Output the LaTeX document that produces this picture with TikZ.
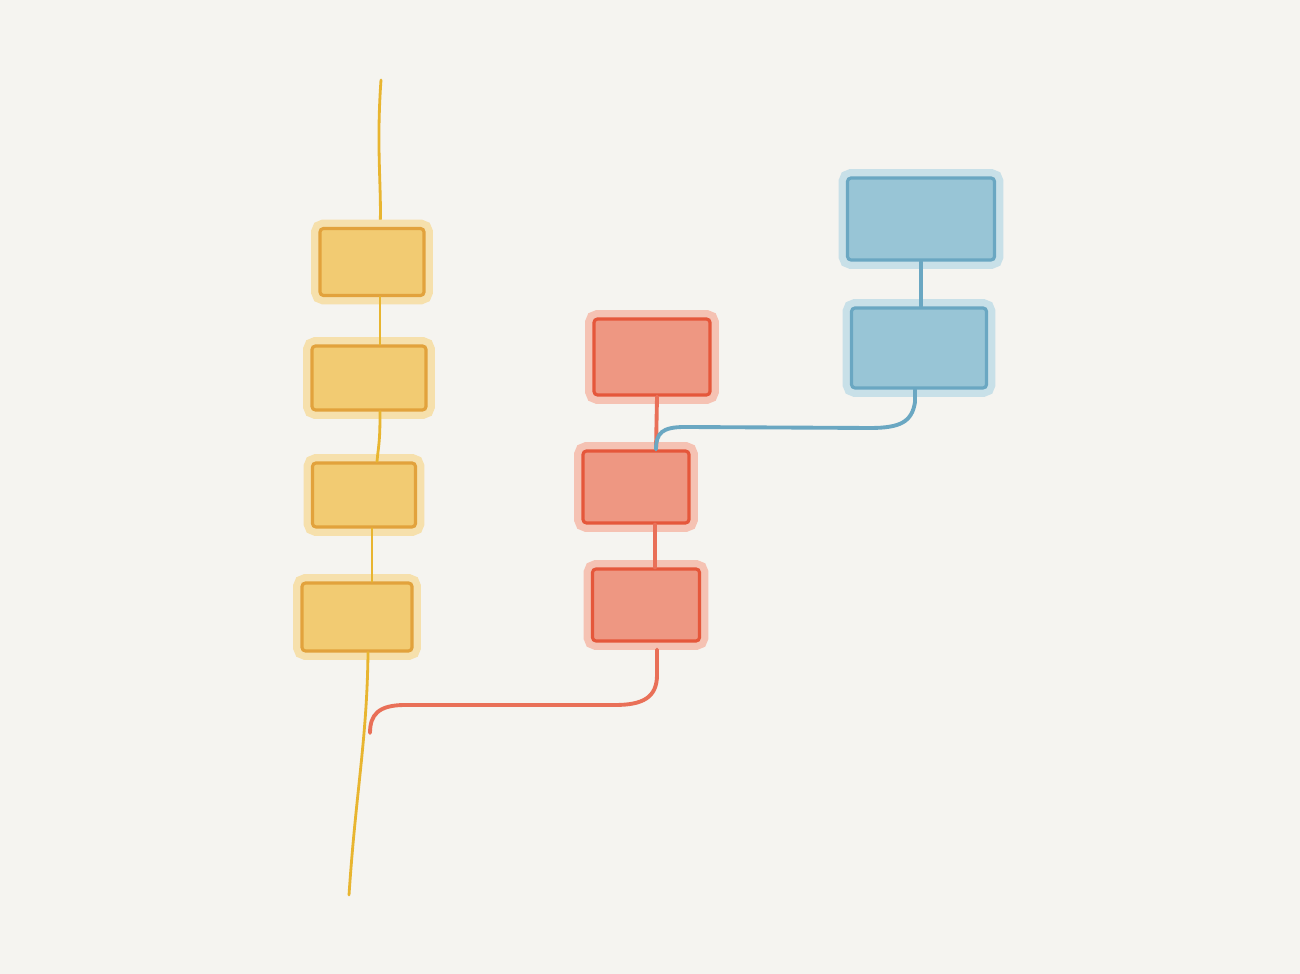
\documentclass[tikz,border=0pt]{standalone}
\definecolor{paper}{HTML}{F5F4F0}
\definecolor{yelfill}{HTML}{F2CB72}
\definecolor{yelblob}{HTML}{F6E0AC}
\definecolor{yelline}{HTML}{E2A23C}
\definecolor{redfill}{HTML}{EE9782}
\definecolor{redblob}{HTML}{F5C2B3}
\definecolor{redline}{HTML}{E5573B}
\definecolor{bluefill}{HTML}{98C5D6}
\definecolor{blueblob}{HTML}{C8E0E8}
\definecolor{blueline}{HTML}{6AA7C2}
\begin{document}
\begin{tikzpicture}[
  commit/.style={rectangle,inner sep=0pt,rounded corners=1pt,line width=0.9pt},
  ycommit/.style={commit,draw=yelline,fill=yelfill,preaction={draw=yelblob,line width=5pt,rounded corners=4pt}},
  rcommit/.style={commit,draw=redline,fill=redfill,preaction={draw=redblob,line width=5pt,rounded corners=4pt}},
  bcommit/.style={commit,draw=blueline,fill=bluefill,preaction={draw=blueblob,line width=5pt,rounded corners=4pt}},
  ybranch/.style={draw=yelline!80!yellow,line width=0.8pt,line cap=round},
  rbranch/.style={draw=redline!85!white,line width=1.1pt,line cap=round},
  bbranch/.style={draw=blueline,line width=1.1pt,line cap=round}]
\fill[paper] (0,0) rectangle (13,-9.74);
\useasboundingbox (0,0) rectangle (13,-9.74);
    % master
    \coordinate (ytop) at (3.81,-0.80);
    \coordinate (ybot) at (3.49,-8.95);
    \draw[ybranch] (ytop) .. controls (3.76,-1.5) and (3.82,-1.9) .. (3.80,-2.29);
    \node[ycommit,minimum width=1.04cm,minimum height=0.67cm] (y1) at (3.72,-2.62) {};
    \node[ycommit,minimum width=1.14cm,minimum height=0.64cm] (y2) at (3.69,-3.78) {};
    \node[ycommit,minimum width=1.03cm,minimum height=0.64cm] (y3) at (3.64,-4.95) {};
    \node[ycommit,minimum width=1.10cm,minimum height=0.68cm] (y4) at (3.57,-6.17) {};
    \draw[ybranch] ([xshift=0.08cm]y1.south) -- ([xshift=0.11cm]y2.north);
    \draw[ybranch] ([xshift=0.11cm]y2.south) .. controls +(0,-0.3) and +(0.02,0.2) .. ([xshift=0.13cm]y3.north);
    \draw[ybranch] ([xshift=0.08cm]y3.south) -- ([xshift=0.15cm]y4.north);
    \draw[ybranch] ([xshift=0.11cm]y4.south) .. controls (3.67,-7.4) and (3.56,-7.9) .. (ybot);
    % feature
    \node[rcommit,minimum width=1.16cm,minimum height=0.76cm] (r1) at (6.52,-3.57) {};
    \node[rcommit,minimum width=1.06cm,minimum height=0.72cm] (r2) at (6.36,-4.87) {};
    \node[rcommit,minimum width=1.07cm,minimum height=0.72cm] (r3) at (6.46,-6.05) {};
    \coordinate (rmerge) at (3.70,-7.33);
    \draw[rbranch] ([xshift=0.05cm]r1.south) -- ([xshift=0.20cm]r2.north);
    \draw[rbranch] ([xshift=0.19cm]r2.south) -- ([xshift=0.09cm]r3.north);
    \draw[rbranch] ([xshift=0.11cm,yshift=-0.07cm]r3.south) -- (6.57,-6.75)
      .. controls (6.57,-6.98) and (6.42,-7.05) .. (6.15,-7.05)
      -- (4.05,-7.05) .. controls (3.78,-7.05) and (3.70,-7.15) .. (rmerge);
    % hotfix
    \node[bcommit,minimum width=1.47cm,minimum height=0.82cm] (b1) at (9.21,-2.19) {};
    \node[bcommit,minimum width=1.35cm,minimum height=0.80cm] (b2) at (9.19,-3.48) {};
    \draw[bbranch] (b1.south) -- ([xshift=0.02cm]b2.north);
    \draw[bbranch] ([xshift=-0.04cm]b2.south) -- (9.15,-4.02)
      .. controls (9.12,-4.22) and (9.0,-4.28) .. (8.70,-4.28)
      -- (6.85,-4.27) .. controls (6.62,-4.27) and (6.56,-4.33) .. ([xshift=0.20cm]r2.north);
\end{tikzpicture}
\end{document}
